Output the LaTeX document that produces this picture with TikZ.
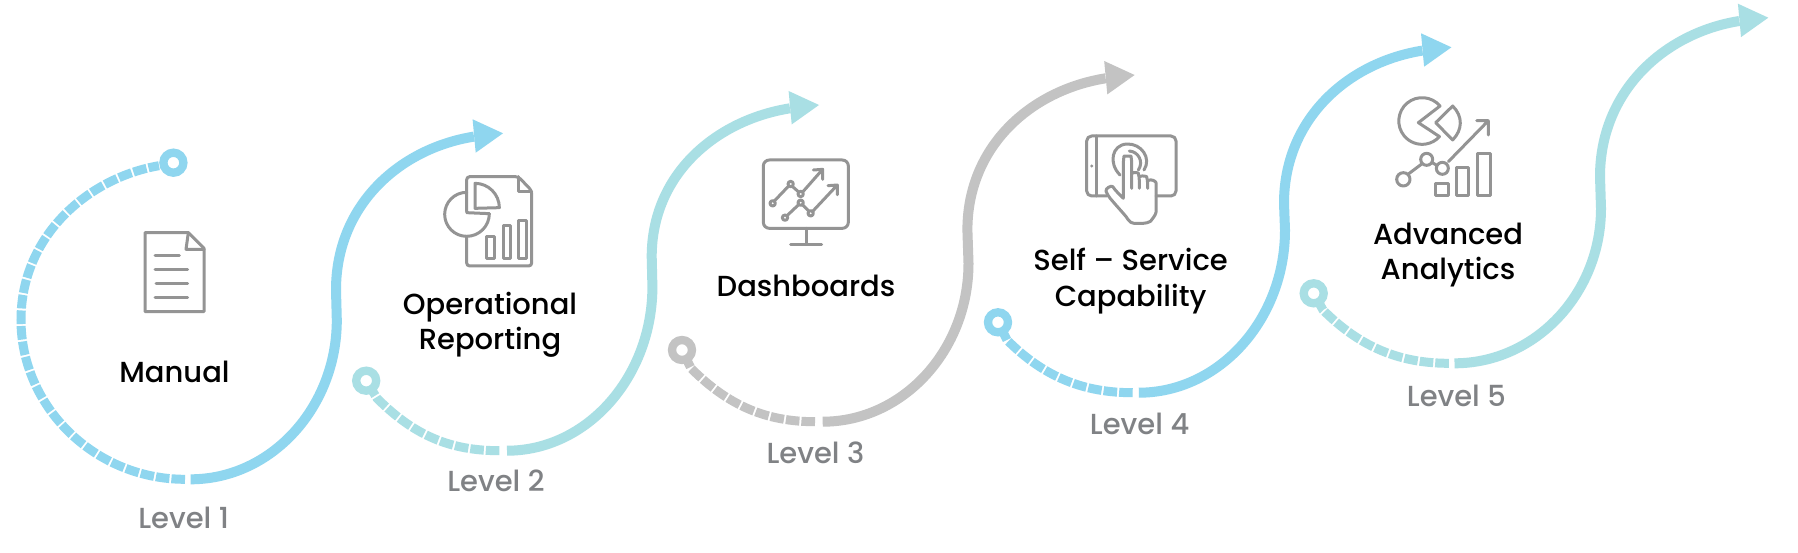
\documentclass[tikz,border=0pt]{standalone}
\usepackage{fontspec}
\setmainfont{Poppins Medium}
\usetikzlibrary{calc}
\definecolor{skyc}{HTML}{8FD6EF}
\definecolor{tealc}{HTML}{A9DFE4}
\definecolor{grayc}{HTML}{C3C3C3}
\definecolor{iconc}{HTML}{949494}
\definecolor{lvlc}{HTML}{808285}
\tikzset{
  swoosh/.style={line width=10pt},
  dashpart/.style={line width=9pt,dash pattern=on 13.6pt off 2pt},
  ringdot/.style={line width=8.3pt,fill=white},
  title/.style={font=\fontsize{29}{35.5}\selectfont,text=black,align=center,inner sep=0pt},
  lvl/.style={font=\fontsize{29}{32}\selectfont,text=lvlc,inner sep=0pt},
  ic/.style={draw=iconc,line width=3pt,line join=round,line cap=round},
  iconframe/.style={x=0.33333pt,y=-0.33333pt}
}
\newcommand{\solidcurve}[5]{%
  \coordinate (g) at (#2);
  \coordinate (l) at (#3);
  \coordinate (u) at (#4);
  \coordinate (t) at (#5);
  \coordinate (a) at ($(t)+(-29,3.3)$);
  \draw[swoosh,draw=#1] (g) .. controls ($(g)!0.55!(g-|l)$) and ($(l)!0.55!(l|-g)$) .. (l)
     -- (u) .. controls ($(u)!0.55!(u|-a)$) and ($(a)+(-75,12)$) .. (a);
  \fill[#1] (t) -- ($(t)+(-30.4,-14)$) -- ($(t)+(-27.3,19.4)$) -- cycle;
}
\newcommand{\shortdash}[4]{% colour, ring, dash start (bottom), dash end (near ring)
  \coordinate (d) at (#3);
  \coordinate (b) at (#4);
  \draw[dashpart,draw=#1] (d) .. controls ($(d)+(-48,0)$) and ($(b)+(38,38)$) .. (b) -- (#2);
  \draw[ringdot,draw=#1] (#2) circle[radius=10];
}
\begin{document}
\begin{tikzpicture}[x=1pt,y=-1pt]
\useasboundingbox (0,0) rectangle (1798,553);
\fill[white] (0,0) rectangle (1798,553);

% curve 1
\solidcurve{skyc}{190.6,479.3}{336.8,320}{336,290}{503,133.3}
\coordinate (d1) at (185,479.3);
\coordinate (l1) at (21,320);
\coordinate (t1) at (159,165.7);
\coordinate (r1) at (173.4,162.7);
\draw[dashpart,draw=skyc] (d1) .. controls ($(d1)+(-90,0)$) and ($(l1)+(0,87)$) .. (l1)
   .. controls ($(l1)+(0,-85)$) and ($(t1)+(-70,12)$) .. (t1);
\draw[ringdot,draw=skyc] (r1) circle[radius=10];

% curve 2
\solidcurve{tealc}{507,450.7}{652.4,286.7}{651.7,256.7}{819,105}
\coordinate (r2) at (366.2,380.7);
\shortdash{tealc}{r2}{499.4,450.7}{377,398.3}
% curve 3
\solidcurve{grayc}{822.7,421.7}{968.5,263.3}{967.4,230}{1134.6,75}
\coordinate (r3) at (682,350);
\shortdash{grayc}{r3}{815,421.7}{691,368.3}
% curve 4
\solidcurve{skyc}{1138.8,392.7}{1285,230}{1284,203.3}{1451.4,47.3}
\coordinate (r4) at (998,322.3);
\shortdash{skyc}{r4}{1132.7,392.7}{1007,340}
% curve 5
\solidcurve{tealc}{1454.5,363.3}{1601,208.3}{1600,176.7}{1768.3,17.7}
\coordinate (r5) at (1313.7,293.3);
\shortdash{tealc}{r5}{1448.8,363.3}{1323,310}

% titles
\node[title] (t-manual) at (174.5,372) {Manual};
\node[title] (t-op) at (490,325) {Operational\\Reporting};
\node[title] (t-dash) at (806,286) {Dashboards};
\node[title] (t-self) at (1130.6,281) {Self – Service\\Capability};
\node[title] (t-adv) at (1448,255) {Advanced\\Analytics};
% levels
\node[lvl] (l-1) at (183.7,518) {Level 1};
\node[lvl] (l-2) at (496,481) {Level 2};
\node[lvl] (l-3) at (815.5,453) {Level 3};
\node[lvl] (l-4) at (1139.6,424) {Level 4};
\node[lvl] (l-5) at (1456.4,396) {Level 5};

% icon 1
\begin{scope}[shift={(120,210)},iconframe]
\draw[ic] (75,68) -- (205,68) -- (252,115) -- (252,305) -- (75,305) -- cycle;
\draw[ic] (205,68) -- (198,118) -- (252,118);
\draw[ic] (105,136) -- (178,136) (105,178) -- (203,178) (108,220) -- (203,220) (105,262) -- (203,262);
\end{scope}
% icon 2
\begin{scope}[shift={(430,160)},iconframe]
\draw[ic,rounded corners=3pt] (110,155) -- (110,50) -- (265,50) -- (305,92) -- (305,318) -- (110,318) -- (110,230);
\draw[ic] (265,50) -- (265,95) -- (305,95);
\draw[ic] (110,97) arc[start angle=-90,end angle=-270,radius=66];
\draw[ic] (110,229) arc[start angle=90,end angle=0,radius=68];
\draw[ic] (110,158) -- (178,161);
\draw[ic] (135,145) -- (135,70) arc[start angle=-90,end angle=0,radius=73] -- cycle;
\draw[ic] (170,230) rectangle (192,295) (220,198) rectangle (242,295) (265,182) rectangle (288,295);
\end{scope}
% icon 3
\begin{scope}[shift={(750,150)},iconframe]
\draw[ic,rounded corners=6pt] (40,30) rectangle (295,235);
\draw[ic] (168,235) -- (168,283) (122,283) -- (215,283);
\draw[ic] (73,153) -- (116,108) (128,110) -- (146,126) (158,126) -- (218,58) (190,60) -- (218,58) -- (218,88);
\draw[ic] (111,197) -- (146,164) (158,165) -- (176,183) (188,184) -- (262,105) (234,107) -- (262,105) -- (262,134);
\draw[ic] (68,160) circle[radius=8] (122,102) circle[radius=8] (152,132) circle[radius=8];
\draw[ic] (105,203) circle[radius=8] (152,158) circle[radius=8] (182,190) circle[radius=8];
\end{scope}
% icon 4
\begin{scope}[shift={(1070,120)},iconframe]
\draw[ic,rounded corners=5pt] (110,228) -- (50,228) -- (50,48) -- (318,48) -- (318,228) -- (258,228);
\draw[ic] (80,48) -- (80,228);
\fill[iconc] (65,138) circle[radius=5];
\draw[ic] (150,165) .. controls (115,130) and (125,75) .. (170,72) .. controls (215,70) and (245,115) .. (222,150);
\draw[ic] (178,93) .. controls (205,95) and (222,125) .. (205,150);
\draw[ic,rounded corners=4pt] (160,235) -- (160,120) .. controls (162,108) and (183,108) .. (185,120) -- (185,205)
  (185,160) .. controls (195,155) and (205,160) .. (208,170) -- (208,205)
  (208,170) .. controls (220,165) and (230,170) .. (233,182) -- (233,205)
  (233,182) .. controls (245,175) and (258,185) .. (258,200) -- (258,265) .. controls (258,285) and (240,305) .. (232,310)
  -- (180,310) .. controls (170,290) and (150,270) .. (112,225) .. controls (105,205) and (125,195) .. (135,210) -- (160,235);
\end{scope}
% icon 5
\begin{scope}[shift={(1385,90)},iconframe]
\draw[ic] (100,98) -- (165,48) arc[start angle=-40,end angle=-318,radius=70] -- cycle;
\draw[ic] (152,98) -- (203,48) .. controls (235,80) and (232,120) .. (203,150) -- cycle;
\draw[ic] (190,215) -- (310,92) (275,92) -- (310,92) -- (310,135);
\draw[ic] (70,252) -- (110,222) (142,218) -- (155,226);
\draw[ic] (55,268) circle[radius=20] (125,208) circle[radius=18] (172,235) circle[radius=18];
\draw[ic] (152,280) rectangle (190,318) (215,232) rectangle (250,318) (278,190) rectangle (315,318);
\end{scope}
\end{tikzpicture}
\end{document}
